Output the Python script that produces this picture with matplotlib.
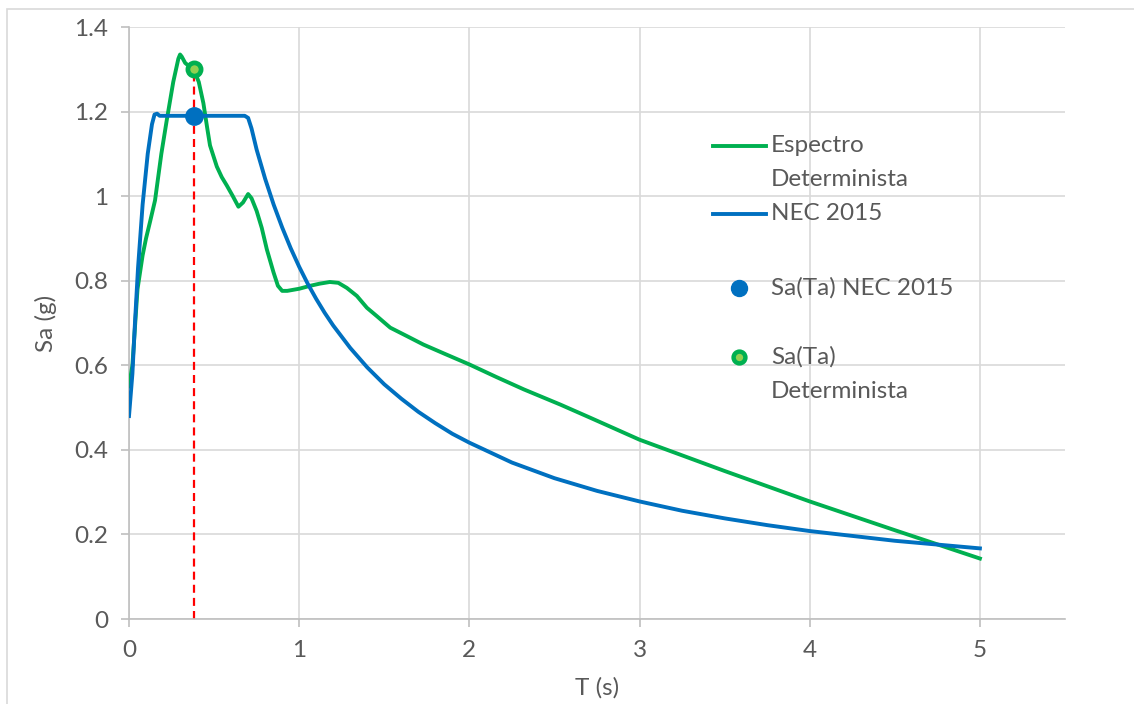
import matplotlib
matplotlib.use('Agg')
import matplotlib.pyplot as plt
from matplotlib.lines import Line2D
from matplotlib.patches import Rectangle

plt.rcParams['font.family'] = ['Lato', 'DejaVu Sans']

# periods (s) and spectral accelerations (g)
t_det = [0, 0.02, 0.05, 0.08, 0.10, 0.124, 0.153, 0.19, 0.222, 0.26, 0.29,
         0.30, 0.31, 0.33, 0.345, 0.36, 0.38, 0.41, 0.437, 0.46, 0.476, 0.50,
         0.516, 0.545, 0.575, 0.61, 0.643, 0.67, 0.70, 0.72, 0.75, 0.78,
         0.81, 0.849, 0.875, 0.90, 0.93, 1.0, 1.065, 1.12, 1.18, 1.23, 1.28,
         1.339, 1.398, 1.457, 1.535, 1.633, 1.73, 1.85, 2.0, 2.16, 2.32,
         2.535, 2.71, 3.0, 3.5, 4.0, 4.5, 5.0]
sa_det = [0.55, 0.60, 0.78, 0.86, 0.90, 0.94, 0.99, 1.10, 1.18, 1.27, 1.325,
          1.335, 1.33, 1.315, 1.31, 1.305, 1.30, 1.27, 1.22, 1.16, 1.12, 1.09,
          1.07, 1.045, 1.025, 1.0, 0.975, 0.985, 1.005, 0.995, 0.965, 0.925,
          0.874, 0.82, 0.788, 0.776, 0.776, 0.781, 0.788, 0.793, 0.797, 0.795,
          0.783, 0.764, 0.736, 0.716, 0.689, 0.669, 0.649, 0.628, 0.602,
          0.572, 0.543, 0.507, 0.476, 0.424, 0.35, 0.278, 0.21, 0.143]

t_nec = [0, 0.02, 0.035, 0.053, 0.08, 0.11, 0.135, 0.15, 0.165, 0.18, 0.68,
         0.70, 0.72, 0.75, 0.8, 0.85, 0.9, 0.95, 1.0, 1.05, 1.1, 1.15, 1.2,
         1.3, 1.4, 1.5, 1.6, 1.7, 1.8, 1.9, 2.0, 2.25, 2.5, 2.75, 3.0, 3.25,
         3.5, 3.75, 4.0, 4.5, 5.0]
sa_nec = [0.48, 0.58, 0.70, 0.83, 0.98, 1.10, 1.17, 1.193, 1.195, 1.19, 1.19,
          1.185, 1.16, 1.11, 1.041, 0.980, 0.926, 0.877, 0.833, 0.793, 0.757,
          0.724, 0.694, 0.641, 0.595, 0.555, 0.521, 0.490, 0.463, 0.438,
          0.417, 0.370, 0.333, 0.303, 0.278, 0.256, 0.238, 0.222, 0.208,
          0.185, 0.167]

ta = 0.38
sa_ta_nec = 1.19
sa_ta_det = 1.30

GREEN = '#00B050'
BLUE = '#0070C0'
LIGHT_GREEN = '#92D050'
TEXT = '#595959'
GRID = '#D9D9D9'
FS = 17.5
LW = 2.8

W, H = 1134, 704
fig = plt.figure(figsize=(W / 100, H / 100), dpi=100)
ax = fig.add_axes([129 / W, 1 - 619 / H, (1065 - 129) / W, (619 - 27) / H])

# outer chart border
fig.patches.append(Rectangle((7 / W, -0.1), 1.2, 1 - 8.5 / H + 0.1,
                             transform=fig.transFigure, fill=False,
                             edgecolor=GRID, linewidth=1.2))

ax.plot(t_det, sa_det, color=GREEN, lw=LW, solid_joinstyle='round', zorder=3)
ax.plot(t_nec, sa_nec, color=BLUE, lw=LW, solid_joinstyle='round', zorder=4)
ax.plot([ta, ta], [0, sa_ta_det - 0.015], color='#FF0000', lw=1.6,
        linestyle=(0, (3.6, 2.3)), zorder=2)
ax.plot([ta], [sa_ta_nec], 'o', color=BLUE, ms=12.5, zorder=5)
ax.plot([ta], [sa_ta_det], 'o', markerfacecolor=LIGHT_GREEN,
        markeredgecolor=GREEN, ms=9.5, mew=3.4, zorder=5)

ax.set_xlim(0, 5.5)
ax.set_ylim(0, 1.4)
ax.set_xticks(range(6))
ax.set_xticklabels([str(v) for v in range(6)])
yt = [0, 0.2, 0.4, 0.6, 0.8, 1.0, 1.2, 1.4]
ax.set_yticks(yt)
ax.set_yticklabels(['0', '0.2', '0.4', '0.6', '0.8', '1', '1.2', '1.4'])
ax.grid(True, color=GRID, lw=1.2)
ax.set_axisbelow(True)
for s in ['top', 'right']:
    ax.spines[s].set_visible(False)
for s in ['left', 'bottom']:
    ax.spines[s].set_color('#BFBFBF')
    ax.spines[s].set_linewidth(1.2)
ax.tick_params(direction='out', length=6, width=1.2, color='#BFBFBF',
               labelcolor=TEXT, labelsize=FS, pad=9)
ax.set_xlabel('T (s)', color=TEXT, fontsize=FS, labelpad=12)
ax.set_ylabel('Sa (g)', color=TEXT, fontsize=FS, labelpad=12)

# legend drawn by hand to match the layout
def fy(y):
    return 1 - y / H

def fx(x):
    return x / W

fig.add_artist(Line2D([fx(713), fx(766)], [fy(146), fy(146)], color=GREEN, lw=LW))
fig.add_artist(Line2D([fx(713), fx(766)], [fy(214), fy(214)], color=BLUE, lw=LW))
fig.add_artist(Line2D([fx(739)], [fy(288)], marker='o', color=BLUE, ms=11.5))
fig.add_artist(Line2D([fx(739)], [fy(357)], marker='o', markerfacecolor=LIGHT_GREEN,
                      markeredgecolor=GREEN, ms=8.5, mew=3.2))
legend_items = [('Espectro', 146), ('Determinista', 180), ('NEC 2015', 214),
                ('Sa(Ta) NEC 2015', 288), ('Sa(Ta)', 357), ('Determinista', 392)]
for txt, y in legend_items:
    fig.text(fx(771), fy(y), txt, color=TEXT, fontsize=FS, va='center', ha='left')

fig.savefig('out.png', dpi=100)
